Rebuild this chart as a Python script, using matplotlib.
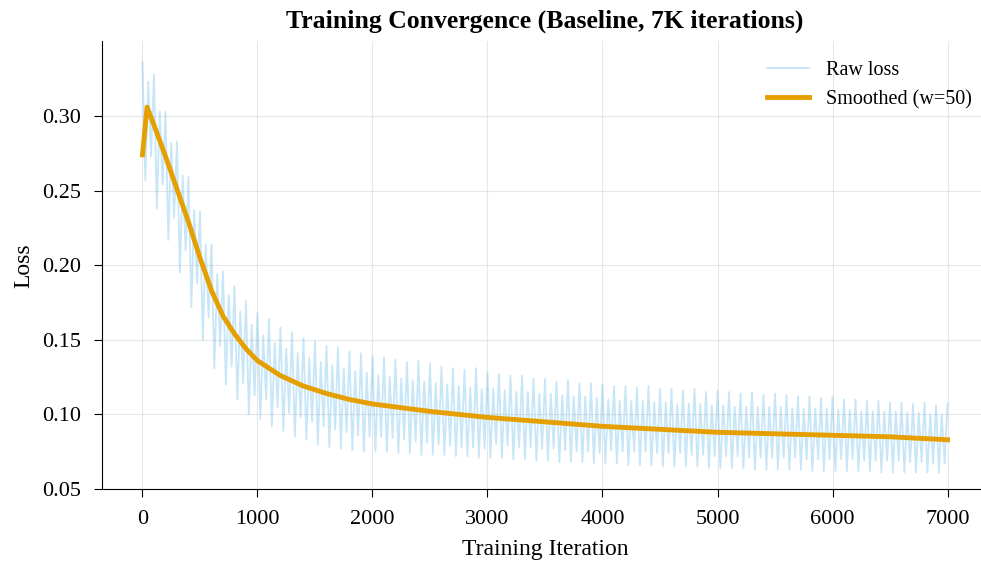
import numpy as np
import matplotlib.pyplot as plt

# raw loss, per 100-iteration cycle:
# tall spike top (t), tall spike bottom (t+25), short spike top (t+50), short spike bottom (t+75)
tall_top = [
    0.336, 0.328, 0.303, 0.283, 0.259, 0.236, 0.214, 0.196, 0.186, 0.176,
    0.168, 0.164, 0.158, 0.155, 0.151, 0.149, 0.146, 0.145, 0.142, 0.141,
    0.139, 0.138, 0.137, 0.135, 0.136, 0.134, 0.132, 0.131, 0.130, 0.131,
    0.128, 0.127, 0.126, 0.126, 0.124, 0.124, 0.122, 0.123, 0.121, 0.121,
    0.120, 0.119, 0.119, 0.118, 0.119, 0.117, 0.117, 0.116, 0.117, 0.115,
    0.116, 0.115, 0.114, 0.115, 0.113, 0.114, 0.113, 0.112, 0.112, 0.111,
    0.112, 0.110, 0.110, 0.109, 0.109, 0.108, 0.108, 0.107, 0.108, 0.106,
    0.107,
]
tall_bottom = [
    0.257, 0.238, 0.217, 0.195, 0.172, 0.150, 0.131, 0.120, 0.110, 0.100,
    0.097, 0.092, 0.089, 0.085, 0.083, 0.080, 0.078, 0.077, 0.076, 0.075,
    0.075, 0.075, 0.074, 0.074, 0.073, 0.073, 0.073, 0.072, 0.072, 0.071,
    0.071, 0.071, 0.070, 0.070, 0.069, 0.069, 0.068, 0.068, 0.068, 0.067,
    0.067, 0.067, 0.066, 0.066, 0.066, 0.065, 0.065, 0.065, 0.065, 0.064,
    0.064, 0.064, 0.064, 0.063, 0.063, 0.063, 0.063, 0.063, 0.062, 0.062,
    0.062, 0.062, 0.062, 0.062, 0.061, 0.061, 0.061, 0.061, 0.061, 0.061,
]
short_top = [
    0.323, 0.303, 0.282, 0.260, 0.237, 0.214, 0.194, 0.180, 0.169, 0.160,
    0.153, 0.148, 0.144, 0.141, 0.138, 0.135, 0.133, 0.131, 0.129, 0.128,
    0.126, 0.125, 0.124, 0.123, 0.122, 0.121, 0.120, 0.119, 0.118, 0.117,
    0.117, 0.116, 0.115, 0.115, 0.114, 0.114, 0.113, 0.112, 0.112, 0.111,
    0.110, 0.109, 0.109, 0.109, 0.108, 0.108, 0.107, 0.107, 0.107, 0.106,
    0.106, 0.105, 0.105, 0.105, 0.105, 0.105, 0.104, 0.104, 0.104, 0.104,
    0.103, 0.103, 0.102, 0.102, 0.102, 0.102, 0.101, 0.101, 0.100, 0.100,
]
short_bottom = [
    0.273, 0.254, 0.232, 0.210, 0.188, 0.165, 0.146, 0.132, 0.121, 0.113,
    0.110, 0.105, 0.101, 0.098, 0.095, 0.092, 0.090, 0.088, 0.086, 0.085,
    0.085, 0.084, 0.083, 0.082, 0.081, 0.080, 0.079, 0.078, 0.078, 0.077,
    0.080, 0.079, 0.078, 0.078, 0.077, 0.077, 0.076, 0.075, 0.075, 0.074,
    0.076, 0.075, 0.075, 0.075, 0.074, 0.074, 0.074, 0.073, 0.073, 0.072,
    0.072, 0.072, 0.071, 0.071, 0.071, 0.071, 0.071, 0.070, 0.070, 0.070,
    0.070, 0.070, 0.069, 0.069, 0.069, 0.069, 0.068, 0.068, 0.067, 0.067,
]

# moving average (w=50)
smooth_iter = [0, 40, 100, 200, 300, 400, 500, 600, 700, 800, 900, 1000,
               1200, 1400, 1600, 1800, 2000, 2500, 3000, 3500, 4000, 4500,
               5000, 5500, 6000, 6500, 7000]
smooth_loss = [0.274, 0.306, 0.294, 0.273, 0.251, 0.229, 0.205, 0.183, 0.166,
               0.154, 0.144, 0.136, 0.126, 0.119, 0.114, 0.110, 0.107, 0.102,
               0.098, 0.095, 0.092, 0.090, 0.088, 0.087, 0.086, 0.085, 0.083]

# interleave the four readings into one trace, 25 iterations apart
raw_iter = np.arange(0, 7001, 25)
raw_loss = np.empty(len(raw_iter))
raw_loss[0::4] = tall_top
raw_loss[1::4] = tall_bottom
raw_loss[2::4] = short_top
raw_loss[3::4] = short_bottom

plt.rcParams['font.family'] = ['Liberation Serif', 'DejaVu Serif']

fig = plt.figure(figsize=(9.81, 5.62), dpi=100)
ax = fig.add_axes([0.1042, 0.1299, 0.9027, 0.7964])

ax.plot(raw_iter, raw_loss, color='#56B4E9', alpha=0.33, lw=1.3, label='Raw loss')
ax.plot(smooth_iter, smooth_loss, color='#E69F00', lw=3.5, label='Smoothed (w=50)')

ax.set_xlim(-350, 7350)
ax.set_ylim(0.05, 0.35)
ax.set_xticks(range(0, 7001, 1000))
ax.set_yticks([0.05, 0.10, 0.15, 0.20, 0.25, 0.30])
ax.set_yticklabels(['0.05', '0.10', '0.15', '0.20', '0.25', '0.30'])
ax.tick_params(labelsize=16, length=6, pad=9)
ax.set_xlabel('Training Iteration', fontsize=17, labelpad=7)
ax.set_ylabel('Loss', fontsize=17, labelpad=6)
ax.set_title('Training Convergence (Baseline, 7K iterations)', fontsize=18.5,
             fontweight='bold', pad=10)
ax.grid(True, alpha=0.3)
ax.spines['top'].set_visible(False)
ax.spines['right'].set_visible(False)
ax.legend(loc='upper right', frameon=False, fontsize=14.5, handlelength=2.1,
          bbox_to_anchor=(1.002, 0.997))

fig.savefig('out.png', dpi=100)
